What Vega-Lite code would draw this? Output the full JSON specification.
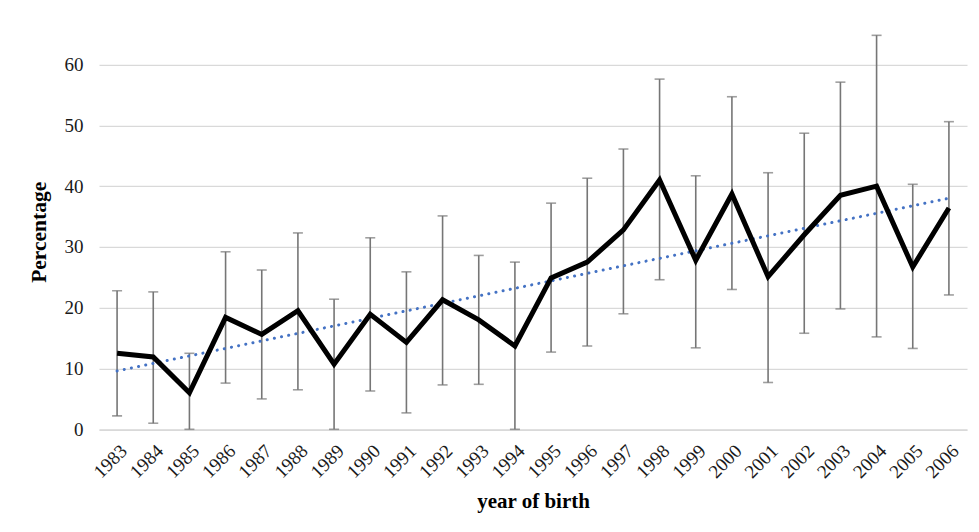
{
  "$schema": "https://vega.github.io/schema/vega-lite/v6.json",
  "width": 868,
  "height": 419.5,
  "autosize": {"type": "none"},
  "padding": {"left": 99, "top": 9.8, "right": 12, "bottom": 102.7},
  "background": "white",
  "config": {"view": {"stroke": null}, "font": "Liberation Serif"},
  "datasets": {
    "main": [
      {"year": "1983", "v": 12.5, "lo": 2.2, "hi": 22.8},
      {"year": "1984", "v": 11.9, "lo": 1.0, "hi": 22.6},
      {"year": "1985", "v": 6.0, "lo": 0, "hi": 12.5},
      {"year": "1986", "v": 18.4, "lo": 7.6, "hi": 29.2},
      {"year": "1987", "v": 15.6, "lo": 5.0, "hi": 26.2},
      {"year": "1988", "v": 19.5, "lo": 6.5, "hi": 32.3},
      {"year": "1989", "v": 10.7, "lo": 0, "hi": 21.4},
      {"year": "1990", "v": 18.9, "lo": 6.3, "hi": 31.5},
      {"year": "1991", "v": 14.3, "lo": 2.7, "hi": 25.9},
      {"year": "1992", "v": 21.3, "lo": 7.3, "hi": 35.1},
      {"year": "1993", "v": 18.0, "lo": 7.4, "hi": 28.6},
      {"year": "1994", "v": 13.7, "lo": 0, "hi": 27.5},
      {"year": "1995", "v": 24.9, "lo": 12.7, "hi": 37.2},
      {"year": "1996", "v": 27.5, "lo": 13.7, "hi": 41.3},
      {"year": "1997", "v": 32.8, "lo": 19.0, "hi": 46.1},
      {"year": "1998", "v": 41.0, "lo": 24.6, "hi": 57.6},
      {"year": "1999", "v": 27.8, "lo": 13.4, "hi": 41.7},
      {"year": "2000", "v": 38.7, "lo": 23.0, "hi": 54.7},
      {"year": "2001", "v": 25.1, "lo": 7.7, "hi": 42.2},
      {"year": "2002", "v": 32.0, "lo": 15.8, "hi": 48.7},
      {"year": "2003", "v": 38.5, "lo": 19.8, "hi": 57.1},
      {"year": "2004", "v": 40.0, "lo": 15.2, "hi": 64.8},
      {"year": "2005", "v": 26.7, "lo": 13.3, "hi": 40.3},
      {"year": "2006", "v": 36.4, "lo": 22.1, "hi": 50.6}
    ],
    "trend": [
      {"year": "1983", "t": 9.6},
      {"year": "2006", "t": 38.0}
    ]
  },
  "layer": [
    {
      "data": {"name": "main"},
      "mark": {"type": "rule", "color": "#767676", "strokeWidth": 1.6},
      "encoding": {
        "x": {
          "field": "year", "type": "ordinal",
          "scale": {"type": "point", "padding": 0.5},
          "axis": {
            "title": "year of birth",
            "titleFontSize": 21, "titleFontWeight": "bold", "titleColor": "#000",
            "titlePadding": 9,
            "labelAngle": -45, "labelFontSize": 19, "labelColor": "#1a1a1a",
            "labelPadding": 12,
            "grid": false, "ticks": false,
            "domain": true, "domainColor": "#d9d9d9", "domainWidth": 1.3
          }
        },
        "y": {
          "field": "lo", "type": "quantitative",
          "scale": {"domain": [0, 69], "nice": false},
          "axis": {
            "title": "Percentage",
            "titleFontSize": 21.5, "titleFontWeight": "bold", "titleColor": "#000",
            "titlePadding": 14,
            "titleY": 222,
            "values": [0, 10, 20, 30, 40, 50, 60],
            "labelFontSize": 19, "labelColor": "#1a1a1a", "labelPadding": 16,
            "grid": true, "gridColor": "#d9d9d9", "gridWidth": 1.3,
            "ticks": false, "domain": false
          }
        },
        "y2": {"field": "hi"}
      }
    },
    {
      "data": {"name": "main"},
      "mark": {"type": "tick", "color": "#767676", "thickness": 1.6, "size": 10, "orient": "horizontal"},
      "encoding": {
        "x": {"field": "year", "type": "ordinal"},
        "y": {"field": "lo", "type": "quantitative"}
      }
    },
    {
      "data": {"name": "main"},
      "mark": {"type": "tick", "color": "#767676", "thickness": 1.6, "size": 10, "orient": "horizontal"},
      "encoding": {
        "x": {"field": "year", "type": "ordinal"},
        "y": {"field": "hi", "type": "quantitative"}
      }
    },
    {
      "data": {"name": "trend"},
      "mark": {"type": "line", "color": "#4472C4", "strokeWidth": 3, "strokeDash": [0.1, 7.2], "strokeCap": "round"},
      "encoding": {
        "x": {"field": "year", "type": "ordinal"},
        "y": {"field": "t", "type": "quantitative"}
      }
    },
    {
      "data": {"name": "main"},
      "mark": {"type": "line", "color": "#000000", "strokeWidth": 5},
      "encoding": {
        "x": {"field": "year", "type": "ordinal"},
        "y": {"field": "v", "type": "quantitative"}
      }
    }
  ]
}
